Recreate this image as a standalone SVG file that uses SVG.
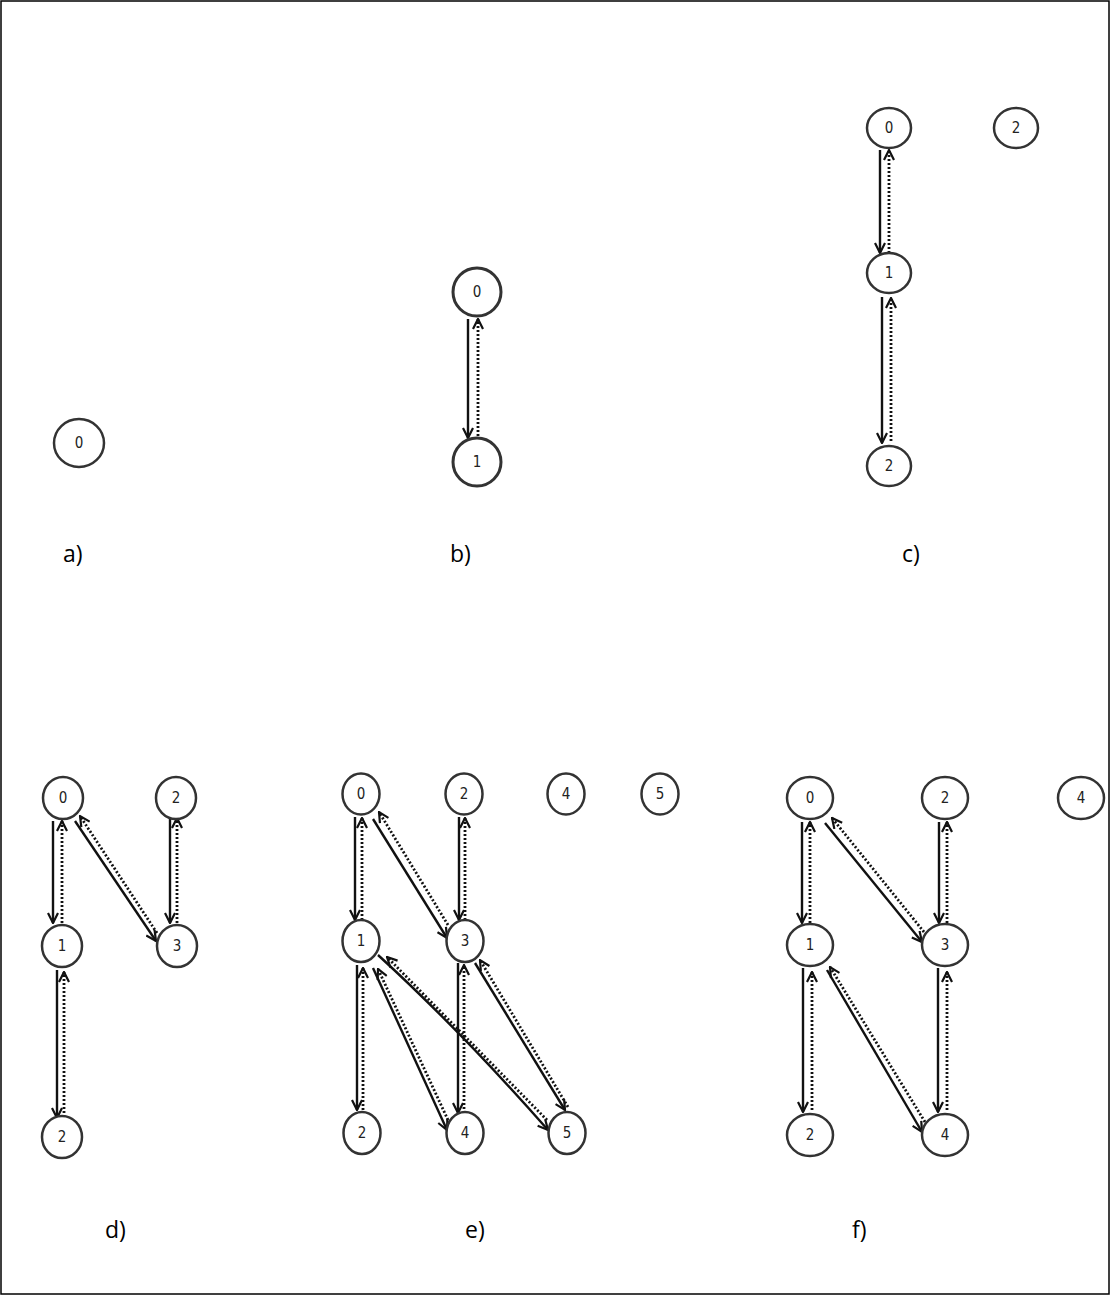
<svg xmlns="http://www.w3.org/2000/svg" width="1110" height="1296" viewBox="0 0 1110 1296">
<style>
.n ellipse{fill:#fff;stroke:#333;stroke-width:2.5}
.n text{font-family:"DejaVu Sans","Liberation Sans",sans-serif;font-stretch:condensed;font-size:15px;fill:#222;text-anchor:middle;dominant-baseline:central}
.s{fill:none;stroke:#111;stroke-width:2.4;marker-end:url(#ah)}
.d{fill:none;stroke:#111;stroke-width:2.8;stroke-dasharray:2 2;marker-end:url(#ah)}
.lbl{font-family:"Open Sans","Liberation Sans",sans-serif;font-size:23px;fill:#000}
</style>
<defs>
<marker id="ah" viewBox="0 0 12 12" refX="11" refY="6" markerWidth="12" markerHeight="12" markerUnits="userSpaceOnUse" orient="auto">
<path d="M1,1 L11,6 L1,11" fill="none" stroke="#111" stroke-width="2.2" stroke-dasharray="none"/>
</marker>
</defs>
<rect x="1" y="1" width="1108" height="1293" fill="#fff" stroke="#000" stroke-width="1.5"/>
<g id="connectors">
<line class="s" x1="468" y1="319" x2="468" y2="438"/>
<line class="d" x1="478" y1="436" x2="478" y2="319"/>
<line class="s" x1="880" y1="150" x2="880" y2="253"/>
<line class="d" x1="889" y1="253" x2="889" y2="150"/>
<line class="s" x1="882" y1="297" x2="882" y2="443"/>
<line class="d" x1="891" y1="441" x2="891" y2="298"/>
<line class="s" x1="53" y1="821" x2="53" y2="923"/>
<line class="d" x1="62" y1="923" x2="62" y2="821"/>
<line class="s" x1="75" y1="821" x2="156" y2="941"/>
<line class="d" x1="157" y1="933" x2="80" y2="816"/>
<line class="s" x1="170" y1="818" x2="170" y2="923"/>
<line class="d" x1="177" y1="923" x2="177" y2="818"/>
<line class="s" x1="57" y1="970" x2="57" y2="1118"/>
<line class="d" x1="64" y1="1117" x2="64" y2="972"/>
<line class="s" x1="355" y1="817" x2="355" y2="920"/>
<line class="d" x1="362" y1="920" x2="362" y2="818"/>
<line class="s" x1="373" y1="819" x2="447" y2="938"/>
<line class="d" x1="448" y1="925" x2="379" y2="812"/>
<line class="s" x1="459" y1="817" x2="459" y2="920"/>
<line class="d" x1="465" y1="920" x2="465" y2="818"/>
<line class="s" x1="357" y1="965" x2="357" y2="1110"/>
<line class="d" x1="363" y1="1110" x2="363" y2="968"/>
<line class="s" x1="373" y1="968" x2="447" y2="1130"/>
<line class="d" x1="448" y1="1120" x2="378" y2="969"/>
<path class="s" d="M378,955 Q460,1030 548,1130"/>
<line class="d" x1="547" y1="1120" x2="387" y2="957"/>
<line class="s" x1="458" y1="963" x2="458" y2="1113"/>
<line class="d" x1="464" y1="1113" x2="464" y2="965"/>
<line class="s" x1="475" y1="963" x2="565" y2="1110"/>
<line class="d" x1="568" y1="1107" x2="480" y2="960"/>
<line class="s" x1="802" y1="822" x2="802" y2="923"/>
<line class="d" x1="810" y1="923" x2="810" y2="822"/>
<line class="s" x1="825" y1="823" x2="922" y2="942"/>
<line class="d" x1="924" y1="932" x2="832" y2="818"/>
<line class="s" x1="939" y1="822" x2="939" y2="923"/>
<line class="d" x1="947" y1="923" x2="947" y2="822"/>
<line class="s" x1="803" y1="968" x2="803" y2="1112"/>
<line class="d" x1="812" y1="1110" x2="812" y2="972"/>
<line class="s" x1="827" y1="970" x2="922" y2="1132"/>
<line class="d" x1="925" y1="1122" x2="830" y2="967"/>
<line class="s" x1="938" y1="968" x2="938" y2="1112"/>
<line class="d" x1="947" y1="1110" x2="947" y2="972"/>
</g>
<g id="a0" class="n"><ellipse cx="79" cy="443" rx="25" ry="24"/><text x="79" y="443">0</text></g>
<g id="b0" class="n"><ellipse cx="477" cy="292" rx="24" ry="24" style="stroke-width:3"/><text x="477" y="292">0</text></g>
<g id="b1" class="n"><ellipse cx="477" cy="462" rx="24" ry="24" style="stroke-width:3"/><text x="477" y="462">1</text></g>
<g id="c0" class="n"><ellipse cx="889" cy="128" rx="22" ry="20"/><text x="889" y="128">0</text></g>
<g id="c2a" class="n"><ellipse cx="1016" cy="128" rx="22" ry="20"/><text x="1016" y="128">2</text></g>
<g id="c1" class="n"><ellipse cx="889" cy="273" rx="22" ry="20"/><text x="889" y="273">1</text></g>
<g id="c2" class="n"><ellipse cx="889" cy="466" rx="22" ry="20"/><text x="889" y="466">2</text></g>
<g id="d0" class="n"><ellipse cx="63" cy="798" rx="20" ry="21"/><text x="63" y="798">0</text></g>
<g id="d2a" class="n"><ellipse cx="176" cy="798" rx="20" ry="21"/><text x="176" y="798">2</text></g>
<g id="d1" class="n"><ellipse cx="62" cy="946" rx="20" ry="21"/><text x="62" y="946">1</text></g>
<g id="d3" class="n"><ellipse cx="177" cy="946" rx="20" ry="21"/><text x="177" y="946">3</text></g>
<g id="d2" class="n"><ellipse cx="62" cy="1137" rx="20" ry="21"/><text x="62" y="1137">2</text></g>
<g id="e0" class="n"><ellipse cx="361" cy="794" rx="18.5" ry="20.5"/><text x="361" y="794">0</text></g>
<g id="e2a" class="n"><ellipse cx="464" cy="794" rx="18.5" ry="20.5"/><text x="464" y="794">2</text></g>
<g id="e4a" class="n"><ellipse cx="566" cy="794" rx="18.5" ry="20.5"/><text x="566" y="794">4</text></g>
<g id="e5a" class="n"><ellipse cx="660" cy="794" rx="18.5" ry="20.5"/><text x="660" y="794">5</text></g>
<g id="e1" class="n"><ellipse cx="361" cy="941" rx="18.5" ry="21"/><text x="361" y="941">1</text></g>
<g id="e3" class="n"><ellipse cx="465" cy="941" rx="18.5" ry="21"/><text x="465" y="941">3</text></g>
<g id="e2" class="n"><ellipse cx="362" cy="1133" rx="18.5" ry="21"/><text x="362" y="1133">2</text></g>
<g id="e4" class="n"><ellipse cx="465" cy="1133" rx="18.5" ry="21"/><text x="465" y="1133">4</text></g>
<g id="e5" class="n"><ellipse cx="567" cy="1133" rx="18.5" ry="21"/><text x="567" y="1133">5</text></g>
<g id="f0" class="n"><ellipse cx="810" cy="798" rx="23" ry="21"/><text x="810" y="798">0</text></g>
<g id="f2a" class="n"><ellipse cx="945" cy="798" rx="23" ry="21"/><text x="945" y="798">2</text></g>
<g id="f4a" class="n"><ellipse cx="1081" cy="798" rx="23" ry="21"/><text x="1081" y="798">4</text></g>
<g id="f1" class="n"><ellipse cx="810" cy="945" rx="23" ry="21"/><text x="810" y="945">1</text></g>
<g id="f3" class="n"><ellipse cx="945" cy="945" rx="23" ry="21"/><text x="945" y="945">3</text></g>
<g id="f2" class="n"><ellipse cx="810" cy="1135" rx="23" ry="21"/><text x="810" y="1135">2</text></g>
<g id="f4" class="n"><ellipse cx="945" cy="1135" rx="23" ry="21"/><text x="945" y="1135">4</text></g>
<text class="lbl" x="63" y="562">a)</text>
<text class="lbl" x="450" y="562">b)</text>
<text class="lbl" x="902" y="562">c)</text>
<text class="lbl" x="105" y="1238">d)</text>
<text class="lbl" x="465" y="1238">e)</text>
<text class="lbl" x="852" y="1238">f)</text>
</svg>
